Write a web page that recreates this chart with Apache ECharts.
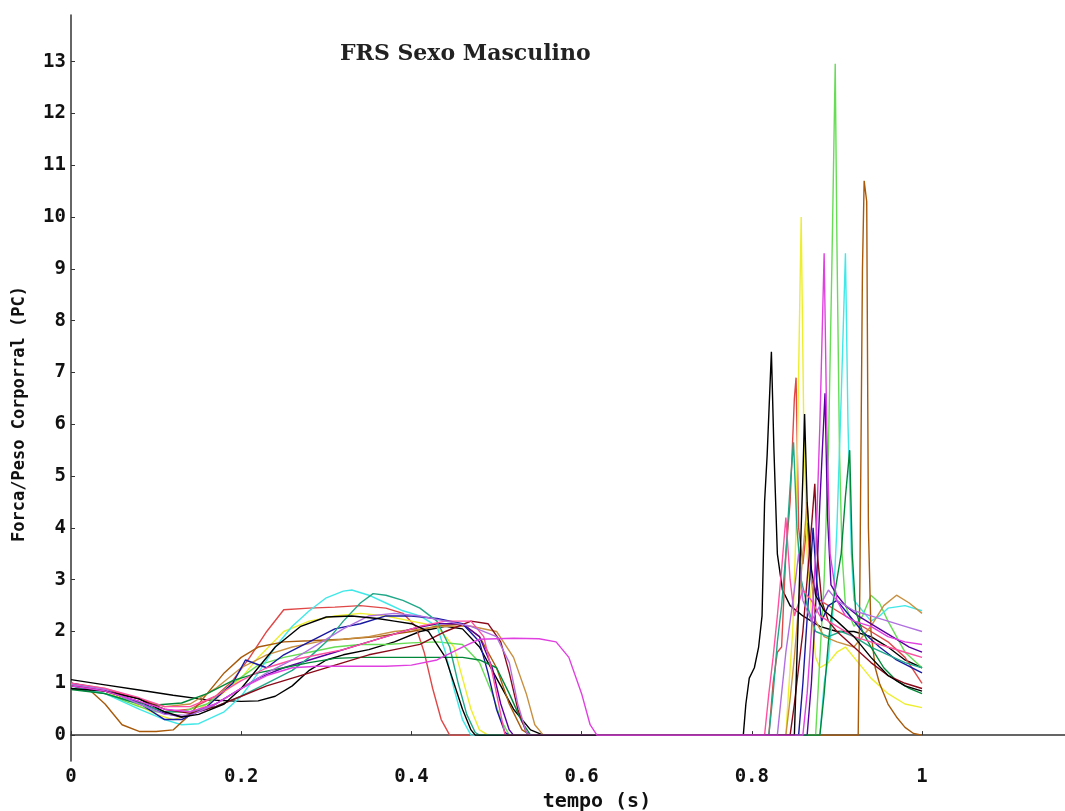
<!DOCTYPE html>
<html>
<head>
<meta charset="utf-8">
<script src="https://cdn.jsdelivr.net/npm/echarts@6/dist/echarts.min.js"></script>
<style>
html,body{margin:0;padding:0;background:#fff;}
#chart{width:1065px;height:811px;}
</style>
</head>
<body>
<div id="chart"></div>
<script>
const titleText = "FRS Sexo Masculino";
const xName = "tempo (s)";
const yName = "Forca/Peso Corporral (PC)";

// each series: [tempo (s), força/peso corporal]
const blackA = [[0,1.07],[0.04,0.97],[0.08,0.87],[0.12,0.77],[0.16,0.68],[0.2,0.65],[0.22,0.66],[0.24,0.75],[0.26,0.95],[0.28,1.25],[0.3,1.45],[0.32,1.55],[0.35,1.65],[0.38,1.8],[0.41,2.0],[0.44,2.1],[0.46,2.05],[0.48,1.7],[0.5,1.1],[0.52,0.5],[0.54,0.1],[0.555,0],[0.79,0],[0.793,0.6],[0.797,1.1],[0.803,1.3],[0.808,1.7],[0.812,2.3],[0.815,4.5],[0.818,5.4],[0.82,6.2],[0.823,7.4],[0.826,5.5],[0.83,3.5],[0.836,2.8],[0.845,2.5],[0.86,2.3],[0.88,2.1],[0.9,2.0],[0.92,2.0],[0.94,1.9],[0.96,1.7],[0.98,1.45],[1.0,1.3]];
const blackB = [[0,0.9],[0.04,0.85],[0.08,0.7],[0.11,0.45],[0.13,0.35],[0.15,0.4],[0.18,0.6],[0.2,0.9],[0.22,1.3],[0.24,1.7],[0.27,2.1],[0.3,2.28],[0.33,2.3],[0.36,2.25],[0.38,2.2],[0.4,2.15],[0.42,2.0],[0.44,1.5],[0.45,1.0],[0.46,0.5],[0.47,0.1],[0.475,0],[0.85,0],[0.853,1.5],[0.857,3.5],[0.86,5.0],[0.862,6.2],[0.865,4.5],[0.87,3.2],[0.875,2.7],[0.885,2.4],[0.9,2.2],[0.92,1.9],[0.94,1.5],[0.96,1.15],[0.98,0.95],[1.0,0.85]];
const red = [[0,1.0],[0.04,0.85],[0.08,0.6],[0.11,0.45],[0.14,0.5],[0.17,0.75],[0.19,1.05],[0.21,1.5],[0.23,2.0],[0.25,2.42],[0.28,2.45],[0.31,2.47],[0.34,2.5],[0.37,2.45],[0.39,2.35],[0.405,2.1],[0.415,1.6],[0.425,0.9],[0.435,0.3],[0.445,0],[0.82,0],[0.825,1.0],[0.83,1.6],[0.835,1.7],[0.84,3.5],[0.845,4.5],[0.85,6.5],[0.852,6.9],[0.855,4.0],[0.86,3.3],[0.865,4.1],[0.87,3.0],[0.88,2.6],[0.9,2.4],[0.92,2.2],[0.94,2.0],[0.96,1.8],[0.98,1.5],[1.0,1.0]];
const yellow = [[0,0.95],[0.04,0.85],[0.07,0.65],[0.1,0.4],[0.12,0.3],[0.14,0.4],[0.17,0.7],[0.2,1.1],[0.22,1.5],[0.25,2.0],[0.28,2.2],[0.31,2.3],[0.34,2.35],[0.37,2.3],[0.4,2.2],[0.43,2.1],[0.45,1.7],[0.46,1.1],[0.47,0.5],[0.48,0.1],[0.49,0],[0.84,0],[0.843,0.8],[0.848,2.0],[0.852,4.0],[0.855,7.0],[0.858,10.0],[0.861,6.0],[0.865,3.5],[0.87,2.4],[0.875,1.5],[0.88,1.3],[0.89,1.4],[0.9,1.6],[0.91,1.7],[0.92,1.5],[0.94,1.1],[0.96,0.8],[0.98,0.6],[1.0,0.53]];
const lightGreen = [[0,0.95],[0.04,0.8],[0.08,0.55],[0.1,0.45],[0.13,0.45],[0.16,0.6],[0.19,1.0],[0.22,1.35],[0.25,1.5],[0.28,1.6],[0.31,1.7],[0.34,1.75],[0.37,1.75],[0.4,1.78],[0.43,1.8],[0.46,1.75],[0.48,1.4],[0.495,0.8],[0.505,0.3],[0.515,0],[0.875,0],[0.88,1.5],[0.885,3.0],[0.89,5.5],[0.894,9.0],[0.898,12.96],[0.9,9.5],[0.903,5.5],[0.906,3.5],[0.91,2.5],[0.92,2.1],[0.93,2.3],[0.94,2.7],[0.95,2.55],[0.96,2.2],[0.98,1.6],[1.0,1.3]];
const cyan = [[0,0.95],[0.04,0.8],[0.08,0.5],[0.11,0.3],[0.13,0.2],[0.15,0.22],[0.18,0.45],[0.2,0.75],[0.22,1.2],[0.24,1.7],[0.26,2.1],[0.28,2.4],[0.3,2.65],[0.32,2.78],[0.33,2.8],[0.35,2.7],[0.37,2.55],[0.39,2.4],[0.41,2.3],[0.43,2.1],[0.44,1.6],[0.45,0.9],[0.46,0.3],[0.47,0],[0.88,0],[0.885,1.0],[0.89,1.5],[0.895,2.3],[0.9,4.0],[0.905,6.5],[0.91,9.3],[0.913,6.0],[0.917,3.5],[0.92,2.6],[0.93,2.4],[0.94,2.2],[0.95,2.3],[0.96,2.45],[0.98,2.5],[1.0,2.4]];
const brown = [[0,1.0],[0.02,0.9],[0.04,0.6],[0.06,0.2],[0.08,0.07],[0.1,0.07],[0.12,0.1],[0.14,0.4],[0.16,0.8],[0.18,1.2],[0.2,1.5],[0.22,1.7],[0.25,1.8],[0.28,1.82],[0.32,1.85],[0.36,1.9],[0.4,2.0],[0.43,2.1],[0.46,2.15],[0.48,1.9],[0.5,1.3],[0.515,0.6],[0.53,0.1],[0.54,0],[0.925,0],[0.927,3.0],[0.93,9.0],[0.932,10.7],[0.935,10.3],[0.937,4.0],[0.94,2.0],[0.945,1.3],[0.95,1.0],[0.96,0.6],[0.97,0.35],[0.98,0.15],[0.99,0.03],[1.0,0]];
const tan = [[0,1.0],[0.04,0.9],[0.08,0.7],[0.11,0.55],[0.14,0.6],[0.17,0.9],[0.2,1.3],[0.23,1.55],[0.26,1.7],[0.29,1.8],[0.32,1.85],[0.35,1.9],[0.38,2.0],[0.41,2.05],[0.44,2.1],[0.47,2.1],[0.5,2.0],[0.52,1.5],[0.535,0.8],[0.545,0.2],[0.555,0],[0.84,0],[0.845,0.7],[0.85,1.5],[0.855,2.5],[0.86,3.5],[0.865,4.5],[0.87,3.0],[0.875,2.2],[0.885,1.9],[0.9,1.8],[0.92,1.7],[0.94,2.1],[0.955,2.5],[0.97,2.7],[0.985,2.55],[1.0,2.35]];
const purple = [[0,0.95],[0.04,0.85],[0.08,0.65],[0.11,0.42],[0.13,0.35],[0.16,0.5],[0.19,0.8],[0.22,1.1],[0.25,1.3],[0.28,1.45],[0.31,1.6],[0.34,1.75],[0.37,1.9],[0.4,2.05],[0.43,2.15],[0.46,2.15],[0.48,1.9],[0.495,1.3],[0.505,0.6],[0.515,0.1],[0.52,0],[0.865,0],[0.87,1.0],[0.875,2.5],[0.88,4.5],[0.886,6.6],[0.889,4.2],[0.893,2.9],[0.9,2.7],[0.91,2.5],[0.925,2.3],[0.945,2.1],[0.965,1.9],[0.985,1.7],[1.0,1.6]];
const navy = [[0,1.0],[0.04,0.88],[0.08,0.62],[0.11,0.3],[0.13,0.3],[0.16,0.55],[0.19,1.0],[0.205,1.45],[0.23,1.3],[0.25,1.55],[0.28,1.8],[0.31,2.05],[0.34,2.15],[0.37,2.3],[0.4,2.3],[0.43,2.25],[0.46,2.15],[0.48,1.8],[0.49,1.2],[0.5,0.5],[0.51,0.05],[0.515,0],[0.855,0],[0.86,1.0],[0.864,2.0],[0.868,3.0],[0.872,4.0],[0.876,3.0],[0.882,2.2],[0.89,2.5],[0.9,2.6],[0.91,2.4],[0.93,2.0],[0.95,1.7],[0.97,1.45],[1.0,1.2]];
const teal = [[0,0.9],[0.04,0.8],[0.08,0.6],[0.11,0.45],[0.14,0.45],[0.17,0.55],[0.2,0.75],[0.23,1.0],[0.26,1.25],[0.28,1.5],[0.3,1.8],[0.32,2.2],[0.34,2.55],[0.355,2.73],[0.37,2.7],[0.39,2.6],[0.41,2.45],[0.43,2.2],[0.445,1.7],[0.455,1.0],[0.465,0.4],[0.475,0.05],[0.48,0],[0.82,0],[0.825,0.8],[0.83,1.8],[0.835,2.5],[0.84,3.5],[0.845,4.8],[0.849,5.65],[0.853,4.0],[0.858,3.0],[0.865,2.5],[0.875,2.0],[0.89,1.9],[0.905,2.0],[0.92,1.9],[0.94,1.7],[0.96,1.55],[0.98,1.4],[1.0,1.3]];
const darkGreen = [[0,0.88],[0.04,0.8],[0.07,0.65],[0.1,0.58],[0.13,0.62],[0.16,0.8],[0.19,1.05],[0.22,1.2],[0.25,1.3],[0.28,1.4],[0.31,1.48],[0.34,1.5],[0.37,1.5],[0.4,1.5],[0.43,1.5],[0.46,1.5],[0.48,1.45],[0.5,1.3],[0.515,0.8],[0.53,0.25],[0.54,0],[0.88,0],[0.885,0.8],[0.89,1.8],[0.895,2.5],[0.9,3.0],[0.905,3.5],[0.91,4.6],[0.915,5.5],[0.918,3.5],[0.922,2.4],[0.93,2.0],[0.94,1.7],[0.955,1.3],[0.97,1.05],[0.985,0.9],[1.0,0.8]];
const maroon = [[0,0.95],[0.04,0.87],[0.08,0.7],[0.11,0.5],[0.14,0.42],[0.17,0.55],[0.2,0.75],[0.23,0.95],[0.26,1.1],[0.29,1.25],[0.32,1.4],[0.35,1.55],[0.38,1.65],[0.41,1.75],[0.44,2.0],[0.47,2.2],[0.49,2.15],[0.505,1.8],[0.515,1.2],[0.525,0.5],[0.535,0.05],[0.54,0],[0.845,0],[0.85,0.6],[0.855,1.3],[0.86,2.0],[0.865,3.0],[0.87,4.0],[0.874,4.85],[0.877,3.5],[0.882,2.6],[0.89,2.2],[0.9,2.0],[0.92,1.7],[0.94,1.4],[0.96,1.15],[0.98,1.0],[1.0,0.9]];
const pink = [[0,1.0],[0.04,0.9],[0.08,0.72],[0.11,0.55],[0.14,0.55],[0.17,0.75],[0.2,1.05],[0.23,1.3],[0.26,1.45],[0.29,1.55],[0.32,1.65],[0.35,1.8],[0.38,1.95],[0.41,2.1],[0.44,2.2],[0.47,2.2],[0.485,1.9],[0.495,1.2],[0.505,0.4],[0.51,0],[0.815,0],[0.82,0.8],[0.825,1.5],[0.83,2.3],[0.835,3.2],[0.84,4.2],[0.845,3.0],[0.85,2.3],[0.86,2.8],[0.87,2.6],[0.88,2.3],[0.9,2.1],[0.92,1.9],[0.94,1.8],[0.96,1.7],[0.98,1.6],[1.0,1.5]];
const violet = [[0,0.98],[0.04,0.88],[0.08,0.6],[0.11,0.4],[0.14,0.38],[0.17,0.6],[0.2,0.9],[0.23,1.2],[0.26,1.45],[0.29,1.75],[0.32,2.05],[0.35,2.3],[0.38,2.35],[0.41,2.3],[0.44,2.2],[0.47,2.1],[0.5,1.9],[0.515,1.4],[0.525,0.6],[0.535,0.05],[0.54,0],[0.83,0],[0.835,0.8],[0.84,1.6],[0.845,2.2],[0.85,2.8],[0.855,3.5],[0.86,2.6],[0.87,2.2],[0.88,2.5],[0.89,2.8],[0.9,2.6],[0.92,2.4],[0.94,2.3],[0.96,2.2],[0.98,2.1],[1.0,2.0]];
const magenta = [[0,0.95],[0.04,0.85],[0.08,0.65],[0.11,0.5],[0.14,0.45],[0.17,0.6],[0.2,0.9],[0.23,1.15],[0.26,1.3],[0.29,1.33],[0.33,1.33],[0.37,1.33],[0.4,1.35],[0.43,1.45],[0.46,1.7],[0.48,1.85],[0.52,1.87],[0.55,1.86],[0.57,1.8],[0.585,1.5],[0.6,0.8],[0.61,0.2],[0.618,0],[0.86,0],[0.865,0.8],[0.87,2.0],[0.875,3.5],[0.88,6.0],[0.885,9.3],[0.888,6.0],[0.892,3.5],[0.9,2.6],[0.91,2.3],[0.92,2.2],[0.94,2.1],[0.96,1.9],[0.98,1.8],[1.0,1.75]];

const seriesData = [blackA, red, yellow, lightGreen, cyan, brown, tan, purple, navy, teal, darkGreen, maroon, pink, violet, blackB, magenta];
const seriesColors = ['#000000','#e04848','#eeee30','#66dd55','#40e8e8','#a85a0a','#c89040','#5a00a0','#1818a0','#20a888','#008838','#8b0a1a','#ff50a0','#b070e0','#000000','#e040e0'];
const seriesNames = ['S1','S2','S3','S4','S5','S6','S7','S8','S9','S10','S11','S12','S13','S14','S15','S16'];

const monoFont = '"DejaVu Sans Mono", monospace';
const chart = echarts.init(document.getElementById('chart'), null, {renderer: 'canvas'});
chart.setOption({
  animation: false,
  backgroundColor: '#ffffff',
  title: {
    text: titleText,
    left: 335, top: 38,
    textStyle: {fontFamily: '"DejaVu Serif", serif', fontSize: 22, fontWeight: 'bold', color: '#222'}
  },
  grid: {left: 71, right: 0, top: 15, bottom: 50, containLabel: false, outerBoundsMode: 'none'},
  xAxis: {
    type: 'value', min: 0, max: 1.168, interval: 0.2,
    name: xName, nameLocation: 'middle', nameGap: 29,
    nameTextStyle: {fontFamily: monoFont, fontWeight: 'bold', fontSize: 20, color: '#111', padding: [0,0,0,58]},
    axisLine: {lineStyle: {color: '#333', width: 1.5}},
    axisTick: {inside: true, length: 4, lineStyle: {color: '#333'}},
    axisLabel: {fontFamily: monoFont, fontWeight: 'bold', fontSize: 19, color: '#111', margin: 7, showMaxLabel: false},
    splitLine: {show: false}
  },
  yAxis: {
    type: 'value', min: -0.5, max: 13.9, splitNumber: 14,
    name: yName, nameLocation: 'middle', nameGap: 43,
    nameTextStyle: {fontFamily: monoFont, fontWeight: 'bold', fontSize: 17, color: '#111', padding: [0,52,0,0]},
    axisLine: {lineStyle: {color: '#333', width: 1.5}},
    axisTick: {inside: true, length: 4, lineStyle: {color: '#333'}},
    axisLabel: {fontFamily: monoFont, fontWeight: 'bold', fontSize: 19, color: '#111', margin: 5, showMinLabel: false, showMaxLabel: false,
      formatter: function (v) { return Number.isInteger(v) ? String(v) : ''; }},
    splitLine: {show: false}
  },
  series: seriesData.map(function (d, i) {
    return {
      name: seriesNames[i], type: 'line', data: d, showSymbol: false, symbol: 'none',
      lineStyle: {color: seriesColors[i], width: 1.4}, itemStyle: {color: seriesColors[i]},
      clip: true, emphasis: {disabled: true}
    };
  })
});
</script>
</body>
</html>
